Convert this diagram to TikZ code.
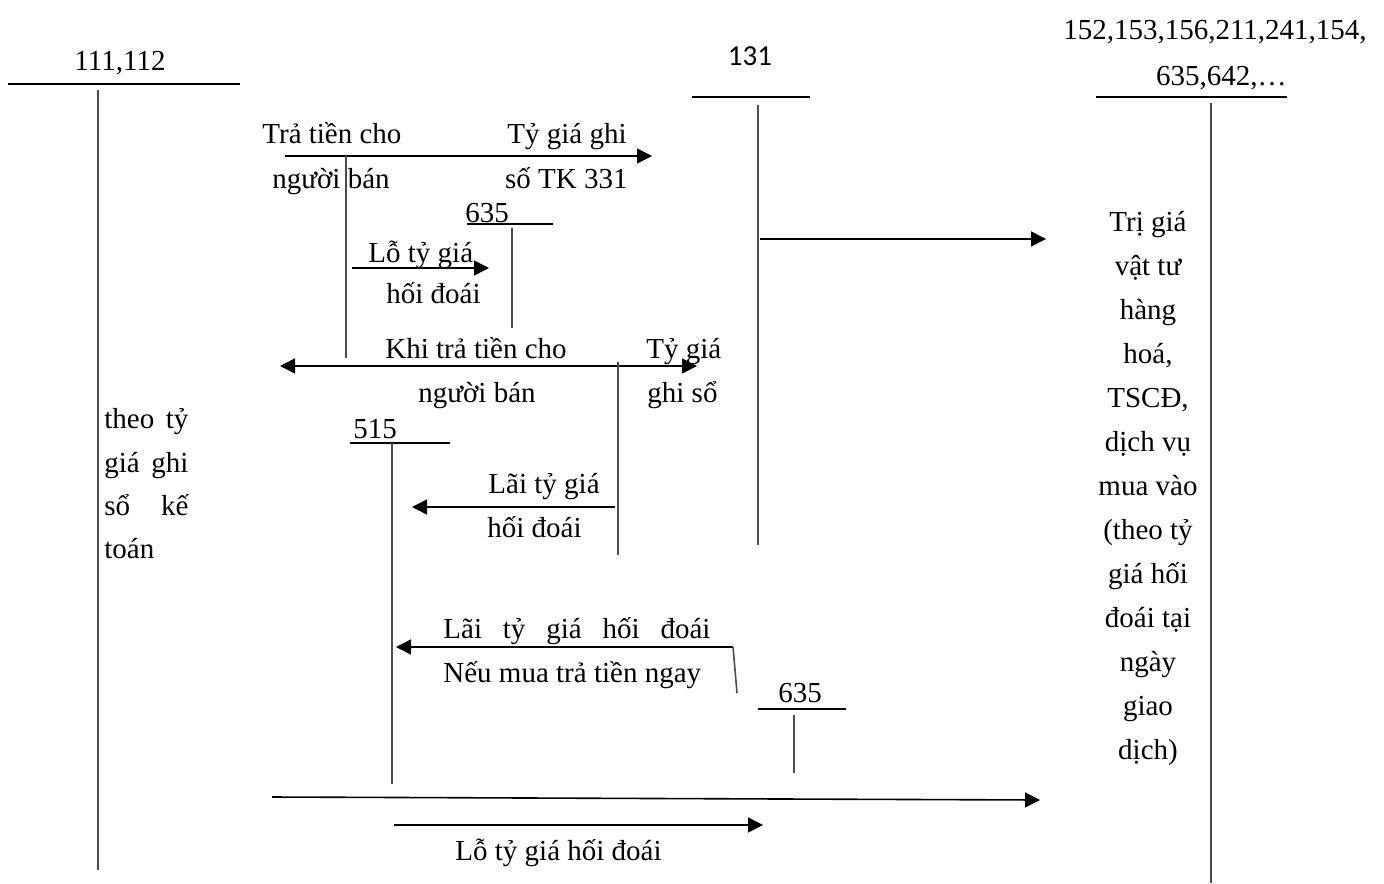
\documentclass[tikz,border=0pt]{standalone}
\usepackage{fontspec}
\setmainfont{Liberation Serif}
\newfontfamily\calib{Carlito}
\usetikzlibrary{arrows.meta}
\begin{document}
\begin{tikzpicture}[x=0.5pt,y=-0.5pt,
  txt/.style={inner sep=0pt,font=\fontsize{14.5pt}{22pt}\selectfont},
  sanstxt/.style={inner sep=0pt,font=\calib\fontsize{14.5pt}{22pt}\selectfont},
  ln/.style={line width=0.8pt,black},
  vl/.style={line width=0.8pt,black!70},
  arr/.style={ln,-{Triangle[length=7.5pt,width=7.5pt]}},
  darr/.style={ln,{Triangle[length=7.5pt,width=7.5pt]}-{Triangle[length=7.5pt,width=7.5pt]}}]
\useasboundingbox (0,0) rectangle (1384,883);

% ---- account 111,112
\coordinate (a1l) at (8,84); \coordinate (a1r) at (240,84);
\draw[ln] (a1l) -- (a1r);
\node[txt,anchor=base] (a1) at (120,71) {111,112};
\coordinate (a1t) at (98,90); \coordinate (a1b) at (98,870);
\draw[vl] (a1t) -- (a1b);
\node[txt,anchor=base west] (l1) at (104,428) {\makebox[42pt][s]{theo tỷ}};
\node[txt,anchor=base west] (l2) at (104,472) {\makebox[42pt][s]{giá ghi}};
\node[txt,anchor=base west] (l3) at (104,515) {\makebox[42pt][s]{sổ kế}};
\node[txt,anchor=base west] (l4) at (104,558) {toán};

% ---- account 131
\node[sanstxt,anchor=base] (a2) at (750,66) {131};
\coordinate (a2l) at (692,97); \coordinate (a2r) at (810,97);
\draw[ln] (a2l) -- (a2r);
\coordinate (a2t) at (758,105); \coordinate (a2b) at (758,545);
\draw[vl] (a2t) -- (a2b);

% ---- account 152,...
\node[txt,anchor=base] (a3) at (1215,40) {152,153,156,211,241,154,};
\node[txt,anchor=base east] (a3b) at (1287,85) {635,642,…};
\coordinate (a3l) at (1096,97); \coordinate (a3r) at (1287,97);
\draw[ln] (a3l) -- (a3r);
\coordinate (a3t) at (1211,103); \coordinate (a3bot) at (1211,883);
\draw[vl] (a3t) -- (a3bot);
\foreach \t [count=\i from 0] in {{Trị giá},{vật tư},{hàng},{hoá,},{TSCĐ,},{dịch vụ},{mua vào},{(theo tỷ},{giá hối},{đoái tại},{ngày},{giao},{dịch)}}
  \node[txt,anchor=base] (r\i) at (1148,231+44*\i) {\t};

% ---- top arrow
\coordinate (t1) at (285,156); \coordinate (t2) at (652,156);
\draw[arr] (t1) -- (t2);
\node[txt,anchor=base west] (t1a) at (262,143) {Trả tiền cho};
\node[txt,anchor=base west] (t1b) at (272,188) {người bán};
\node[txt,anchor=base east] (t2a) at (627,143) {Tỷ giá ghi};
\node[txt,anchor=base east] (t2b) at (628,188) {số TK 331};
\coordinate (v1t) at (346,156); \coordinate (v1b) at (346,358);
\draw[vl] (v1t) -- (v1b);

% ---- account 635 (top)
\node[txt,anchor=base west] (a4) at (465,222) {635};
\coordinate (a4l) at (467,224); \coordinate (a4r) at (553,224);
\draw[ln] (a4l) -- (a4r);
\coordinate (a4t) at (512,228); \coordinate (a4b) at (512,328);
\draw[vl] (a4t) -- (a4b);
\coordinate (s1) at (352,268); \coordinate (s2) at (489,268);
\draw[arr] (s1) -- (s2);
\node[txt,anchor=base west] (s1a) at (368,262) {Lỗ tỷ giá};
\node[txt,anchor=base west] (s1b) at (386,303) {hối đoái};

% ---- arrow from 131 to right
\coordinate (m1) at (760,239); \coordinate (m2) at (1046,239);
\draw[arr] (m1) -- (m2);

% ---- double arrow
\coordinate (d1) at (280,366); \coordinate (d2) at (697,366);
\draw[darr] (d1) -- (d2);
\node[txt,anchor=base west] (d1a) at (385,358) {Khi trả tiền cho};
\node[txt,anchor=base west] (d1b) at (418,402) {người bán};
\node[txt,anchor=base west] (d2a) at (646,358) {Tỷ giá};
\node[txt,anchor=base west] (d2b) at (647,402) {ghi sổ};
\coordinate (v2t) at (618,362); \coordinate (v2b) at (618,555);
\draw[vl] (v2t) -- (v2b);

% ---- account 515
\node[txt,anchor=base west] (a5) at (353,438) {515};
\coordinate (a5l) at (350,443); \coordinate (a5r) at (450,443);
\draw[ln] (a5l) -- (a5r);
\coordinate (a5t) at (392,443); \coordinate (a5b) at (392,784);
\draw[vl] (a5t) -- (a5b);
\coordinate (g1) at (615,507); \coordinate (g2) at (412,507);
\draw[arr] (g1) -- (g2);
\node[txt,anchor=base east] (g1a) at (600,493) {Lãi tỷ giá};
\node[txt,anchor=base west] (g1b) at (487,537) {hối đoái};

% ---- buy and pay now
\coordinate (n1) at (733,647); \coordinate (n2) at (396,647);
\draw[arr] (n1) -- (n2);
\coordinate (n3) at (737,693);
\draw[vl] (n1) -- (n3);
\node[txt,anchor=base west] (n1a) at (443,638) {\makebox[133.5pt][s]{Lãi tỷ giá hối đoái}};
\node[txt,anchor=base west] (n1b) at (443,682) {Nếu mua trả tiền ngay};

% ---- account 635 (bottom)
\node[txt,anchor=base west] (a6) at (778,702) {635};
\coordinate (a6l) at (758,709); \coordinate (a6r) at (846,709);
\draw[ln] (a6l) -- (a6r);
\coordinate (a6t) at (794,715); \coordinate (a6b) at (794,773);
\draw[vl] (a6t) -- (a6b);

% ---- bottom arrows
\coordinate (b1) at (272,797); \coordinate (b2) at (1040,800);
\draw[arr] (b1) -- (b2);
\coordinate (c1) at (394,825); \coordinate (c2) at (763,825);
\draw[arr] (c1) -- (c2);
\node[txt,anchor=base west] (c1a) at (455,860) {Lỗ tỷ giá hối đoái};
\end{tikzpicture}
\end{document}
